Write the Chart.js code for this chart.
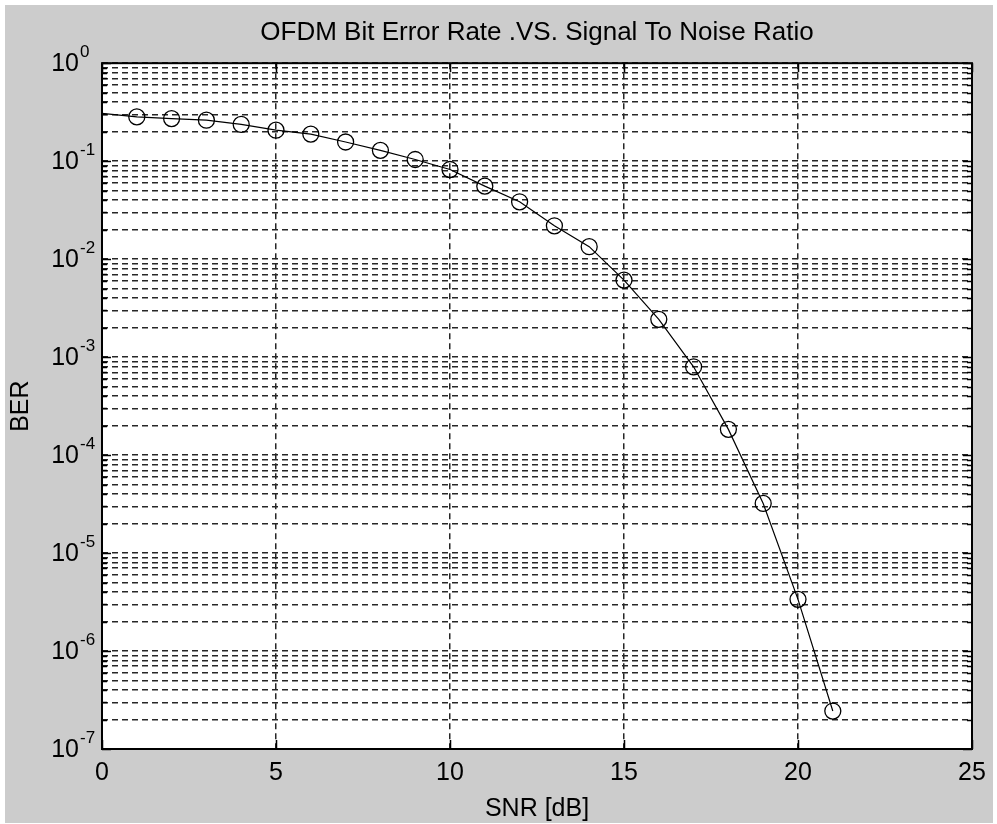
<!DOCTYPE html>
<html>
<head>
<meta charset="utf-8">
<script src="https://cdn.jsdelivr.net/npm/chart.js@4.4.0/dist/chart.umd.min.js"></script>
<style>
  html, body { margin: 0; padding: 0; background: #fff; }
  #wrap { position: relative; width: 997px; height: 824px; }
</style>
</head>
<body>
<div id="wrap"><canvas id="c" width="997" height="824"></canvas></div>
<script>
// data
const snrDb = [0, 1, 2, 3, 4, 5, 6, 7, 8, 9, 10, 11, 12, 13, 14, 15, 16, 17, 18, 19, 20, 21];
const ber = [0.307, 0.283, 0.272, 0.262, 0.237, 0.207, 0.189, 0.157, 0.129, 0.104, 0.0822,
             0.0556, 0.0385, 0.0219, 0.0134, 0.00611, 0.00243, 0.000796, 0.000183, 0.0000321,
             0.00000337, 0.000000244];
// first sample has no marker in the original plot
const markerRadius = [0, 8, 8, 8, 8, 8, 8, 8, 8, 8, 8, 8, 8, 8, 8, 8, 8, 8, 8, 8, 8, 8];
const xTicks = [0, 5, 10, 15, 20, 25];
const decades = [-7, -6, -5, -4, -3, -2, -1, 0];

const FONT = "'Liberation Sans', Arial, sans-serif";
const GRID = '#262626';

// every 1..9 x 10^e line, like matlab's log grid
function logTicks() {
  const out = [];
  decades.forEach(function (e) {
    for (let m = 1; m <= 9; m++) {
      if (e === 0 && m > 1) break;
      out.push({ value: m * Math.pow(10, e), major: m === 1 });
    }
  });
  return out;
}

const matlabLook = {
  id: 'matlabLook',
  beforeDraw(chart) {
    const ctx = chart.ctx, a = chart.chartArea;
    ctx.save();
    ctx.fillStyle = '#fff';
    ctx.fillRect(0, 0, chart.width, chart.height);
    ctx.fillStyle = '#cccccc';
    ctx.fillRect(5, 5, 988, 818);
    ctx.fillStyle = '#fff';
    ctx.fillRect(a.left, a.top, a.right - a.left, a.bottom - a.top);
    ctx.restore();
  },
  afterDraw(chart) {
    const ctx = chart.ctx, a = chart.chartArea;
    const xs = chart.scales.x, ys = chart.scales.y;
    ctx.save();
    ctx.strokeStyle = '#000';
    ctx.lineWidth = 1.5;
    ctx.setLineDash([]);
    ctx.beginPath();
    // inward tick marks
    xs.ticks.forEach(function (t) {
      const px = Math.round(xs.getPixelForValue(t.value)) + 0.5;
      ctx.moveTo(px, a.bottom); ctx.lineTo(px, a.bottom - 9);
      ctx.moveTo(px, a.top); ctx.lineTo(px, a.top + 9);
    });
    ys.ticks.forEach(function (t) {
      const py = Math.round(ys.getPixelForValue(t.value)) + 0.5;
      const len = t.major ? 9 : 5;
      ctx.moveTo(a.left, py); ctx.lineTo(a.left + len, py);
      ctx.moveTo(a.right, py); ctx.lineTo(a.right - len, py);
    });
    ctx.stroke();
    // axes box
    ctx.lineWidth = 2;
    ctx.strokeRect(a.left, a.top, a.right - a.left, a.bottom - a.top);

    // y labels as 10 with a raised exponent
    ctx.fillStyle = '#000';
    decades.forEach(function (e) {
      const py = ys.getPixelForValue(Math.pow(10, e));
      ctx.font = '25px ' + FONT;
      ctx.textAlign = 'right';
      ctx.textBaseline = 'middle';
      ctx.fillText('10', 79, py + 1);
      ctx.font = '17px ' + FONT;
      ctx.textAlign = 'left';
      ctx.fillText(String(e), 80, py - 11);
    });
    ctx.restore();
  }
};

new Chart(document.getElementById('c'), {
  type: 'line',
  data: {
    datasets: [{
      data: snrDb.map(function (x, i) { return { x: x, y: ber[i] }; }),
      borderColor: '#000',
      borderWidth: 1.2,
      tension: 0,
      pointStyle: 'circle',
      pointRadius: markerRadius,
      pointBorderColor: '#000',
      pointBorderWidth: 1.3,
      pointBackgroundColor: 'rgba(0,0,0,0)'
    }]
  },
  options: {
    responsive: false,
    animation: false,
    layout: { padding: { left: 0, right: 25, top: 0, bottom: 0 } },
    plugins: {
      legend: { display: false },
      tooltip: { enabled: false },
      title: {
        display: true,
        fullSize: false,
        text: 'OFDM Bit Error Rate .VS. Signal To Noise Ratio',
        color: '#000',
        font: { family: FONT, size: 26, weight: 'normal' },
        padding: { top: 17, bottom: 15 }
      }
    },
    scales: {
      x: {
        type: 'linear',
        min: 0,
        max: 25,
        afterBuildTicks: function (s) { s.ticks = xTicks.map(function (v) { return { value: v }; }); },
        afterFit: function (s) { s.height = 75; },
        ticks: { color: '#000', font: { family: FONT, size: 25 }, padding: 9, maxRotation: 0, autoSkip: false },
        grid: { color: GRID, lineWidth: 1.5, drawTicks: false },
        border: { display: false, dash: [6, 4] },
        title: {
          display: true, text: 'SNR [dB]', color: '#000',
          font: { family: FONT, size: 25 }, padding: { top: 0, bottom: 0 }
        }
      },
      y: {
        type: 'logarithmic',
        min: 1e-7,
        max: 1,
        afterBuildTicks: function (s) { s.ticks = logTicks(); },
        afterFit: function (s) { s.width = 102; },
        ticks: { display: false },
        grid: { color: GRID, lineWidth: 1.5, drawTicks: false },
        border: { display: false, dash: [6, 4] },
        title: {
          display: true, text: 'BER', color: '#000',
          font: { family: FONT, size: 25 }, padding: { top: 6, bottom: 0 }
        }
      }
    }
  },
  plugins: [matlabLook]
});
</script>
</body>
</html>
